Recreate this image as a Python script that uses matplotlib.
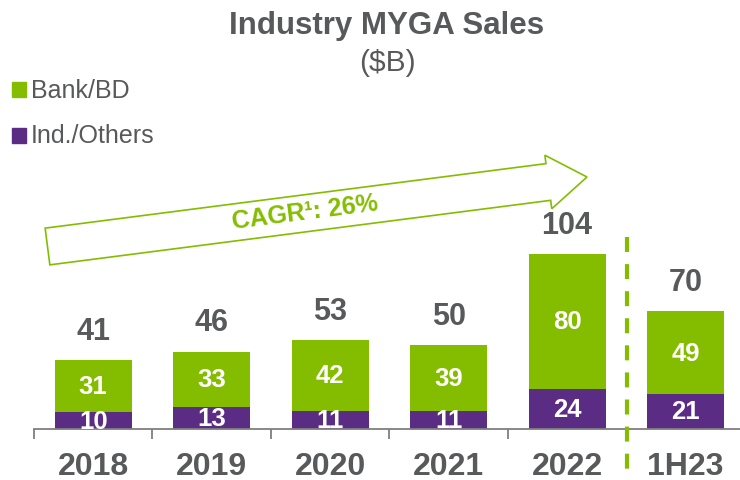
import numpy as np
import matplotlib
matplotlib.use("Agg")
import matplotlib.pyplot as plt
from matplotlib.patches import Polygon, Rectangle

plt.rcParams['font.family'] = ['Liberation Sans', 'DejaVu Sans']

categories = ['2018', '2019', '2020', '2021', '2022', '1H23']
ind_others = [10, 13, 11, 11, 24, 21]
bank_bd = [31, 33, 42, 39, 80, 49]
totals = [41, 46, 53, 50, 104, 70]

GREEN = '#84BD00'
PURPLE = '#5B2C83'
GREY = '#58595B'

W, H = 740, 481
fig = plt.figure(figsize=(W / 100, H / 100), dpi=100)

# main bar axes: baseline at 430px, 1.68 px per $B
base_px = 430
px_per_unit = 1.68
left_px = 34
ax = fig.add_axes([left_px / W, (H - base_px) / H, (W - left_px) / W, base_px / H])
x = np.arange(len(categories))
ax.set_xlim(-0.5, 5.46)
ax.set_ylim(0, base_px / px_per_unit)

ax.bar(x, ind_others, width=0.65, color=PURPLE, zorder=2)
ax.bar(x, bank_bd, width=0.65, bottom=ind_others, color=GREEN, zorder=2)

for i in range(len(x)):
    ax.text(x[i], ind_others[i] / 2, str(ind_others[i]), ha='center', va='center',
            color='white', fontsize=18.5, fontweight='bold', zorder=3)
    ax.text(x[i], ind_others[i] + bank_bd[i] / 2, str(bank_bd[i]), ha='center', va='center',
            color='white', fontsize=18.5, fontweight='bold', zorder=3)
    ax.text(x[i], totals[i] + 17.5, str(totals[i]), ha='center', va='center',
            color=GREY, fontsize=22, fontweight='bold', zorder=3)

# axis styling
for s in ['top', 'right', 'left']:
    ax.spines[s].set_visible(False)
ax.spines['bottom'].set_color('#7F7F7F')
ax.spines['bottom'].set_linewidth(1.3)
ax.set_yticks([])
ax.set_xticks(np.arange(-0.5, 5.0, 1.0))
ax.set_xticklabels([])
ax.tick_params(axis='x', direction='out', length=7, width=1.3, color='#7F7F7F')
for i, c in enumerate(categories):
    ax.text(x[i], -22, c, ha='center', va='center', color=GREY,
            fontsize=23, fontweight='bold', clip_on=False)

# dashed separator before 1H23
ax.plot([4.51, 4.51], [114, -base_px / px_per_unit * 0.12], color=GREEN, lw=3,
        linestyle=(0, (3.6, 2.9)), clip_on=False, zorder=4)

# overlay in pixel coordinates for title, legend and arrow
ov = fig.add_axes([0, 0, 1, 1])
ov.set_xlim(0, W)
ov.set_ylim(H, 0)
ov.axis('off')
ov.patch.set_alpha(0)

ov.text(387, 34, 'Industry MYGA Sales', ha='center', va='baseline', color=GREY,
        fontsize=22.5, fontweight='bold')
ov.text(387, 71, '($B)', ha='center', va='baseline', color=GREY, fontsize=21.5)

ov.add_patch(Rectangle((12, 83), 14, 15, color=GREEN))
ov.text(31, 97.5, 'Bank/BD', ha='left', va='baseline', color=GREY, fontsize=18)
ov.add_patch(Rectangle((12, 129), 14, 15, color=PURPLE))
ov.text(31, 143.5, 'Ind./Others', ha='left', va='baseline', color=GREY, fontsize=18)

# CAGR block arrow
start = np.array([47.5, 247.5])
end = np.array([587.0, 178.0])
d = end - start
u = d / np.hypot(*d)
n = np.array([-u[1], u[0]])
if n[1] < 0:
    n = -n
hw, hhw, hl = 18.5, 27, 39
neck = end - u * hl
pts = [start - n * hw, neck - n * hw, neck - n * hhw, end,
       neck + n * hhw, neck + n * hw, start + n * hw]
ov.add_patch(Polygon(pts, closed=True, fill=False, edgecolor=GREEN, lw=1.2))
ang = np.degrees(np.arctan2(-d[1], d[0]))
ov.text(305, 213, 'CAGR\u00b9: 26%', ha='center', va='center', color=GREEN,
        fontsize=18, fontweight='bold', rotation=ang, rotation_mode='anchor')

fig.savefig('out.png', dpi=100)
